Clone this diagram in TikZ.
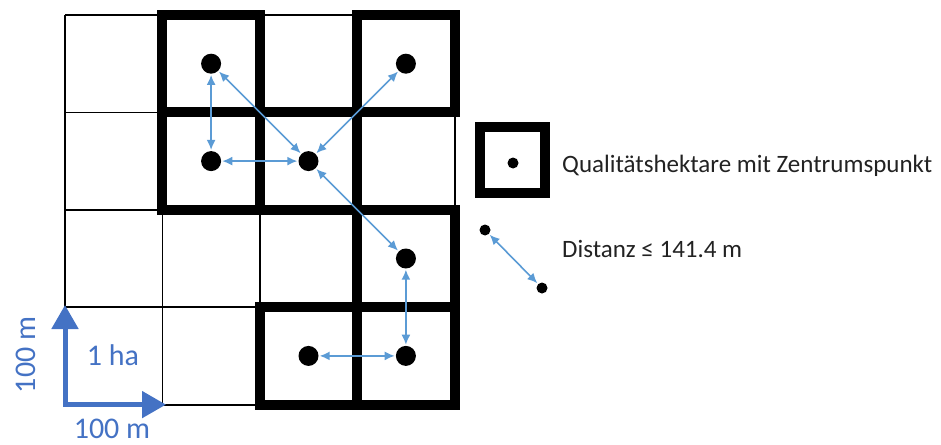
\documentclass[tikz,border=0pt]{standalone}
\usepackage{fontspec}
\setmainfont{Carlito}
\usetikzlibrary{arrows.meta}
\definecolor{linkblue}{HTML}{5B9BD5}
\definecolor{scaleblue}{HTML}{4472C4}
\definecolor{txt}{HTML}{222222}
\tikzset{
  thingrid/.style={line width=1.8pt, black},
  boldcell/.style={line width=10pt, black, line join=miter},
  dotnode/.style={circle, fill=black, inner sep=0pt, minimum size=20pt},
  smalldot/.style={circle, fill=black, inner sep=0pt, minimum size=11pt},
  link/.style={linkblue, line width=1.6pt, {Latex[length=10pt,width=9pt]}-{Latex[length=10pt,width=9pt]}, shorten >=1pt, shorten <=1pt},
  scalearrow/.style={scaleblue, line width=5pt, line join=miter, {Triangle[length=24pt,width=26pt]}-{Triangle[length=24pt,width=26pt]}},
  scalelabel/.style={scaleblue, font=\fontsize{30}{30}\selectfont, inner sep=0pt},
  legendtext/.style={txt, font=\fontsize{25}{25}\selectfont, inner sep=0pt, anchor=base west}
}
\begin{document}
\begin{tikzpicture}[x=1pt,y=-1pt]
\useasboundingbox (0,0) rectangle (941,444);
\def\cs{97.4}
% thin grid
\foreach \i in {0,...,4} {
  \draw[thingrid] (65+\i*\cs,15) -- (65+\i*\cs,15+4*\cs);
  \draw[thingrid] (65,15+\i*\cs) -- (65+4*\cs,15+\i*\cs);
}
% bold cells
\foreach \c/\r in {1/0,3/0,1/1,2/1,3/2,2/3,3/3} {
  \draw[boldcell] (65+\c*\cs,15+\r*\cs) rectangle (65+\c*\cs+\cs,15+\r*\cs+\cs);
}
% dots
\node[dotnode] (a) at (65+1.5*\cs,15+0.5*\cs) {};
\node[dotnode] (b) at (65+3.5*\cs,15+0.5*\cs) {};
\node[dotnode] (c) at (65+1.5*\cs,15+1.5*\cs) {};
\node[dotnode] (d) at (65+2.5*\cs,15+1.5*\cs) {};
\node[dotnode] (e) at (65+3.5*\cs,15+2.5*\cs) {};
\node[dotnode] (f) at (65+2.5*\cs,15+3.5*\cs) {};
\node[dotnode] (g) at (65+3.5*\cs,15+3.5*\cs) {};
% links
\draw[link] (a) -- (c);
\draw[link] (a) -- (d);
\draw[link] (c) -- (d);
\draw[link] (d) -- (b);
\draw[link] (d) -- (e);
\draw[link] (e) -- (g);
\draw[link] (f) -- (g);
% scale
\coordinate (corner) at (65,404.6);
\coordinate (vtip) at (65,305);
\coordinate (htip) at (166,404.6);
\draw[scalearrow] (vtip) -- (corner) -- (htip);
\node[scalelabel, anchor=base] (ha) at (113,365) {1 ha};
\node[scalelabel, anchor=base] (hlab) at (112,438) {100 m};
\node[scalelabel, anchor=base, rotate=90] (vlab) at (35,355) {100 m};
% legend
\draw[boldcell] (480,127) rectangle (545,193);
\node[smalldot] (ld) at (513,163) {};
\node[legendtext] (lt1) at (562,172) {Qualitätshektare mit Zentrumspunkt};
\node[smalldot] (p1) at (485,230) {};
\node[smalldot] (p2) at (542,288) {};
\draw[link] (p1) -- (p2);
\node[legendtext] (lt2) at (562,257) {Distanz ≤ 141.4 m};
\end{tikzpicture}
\end{document}
